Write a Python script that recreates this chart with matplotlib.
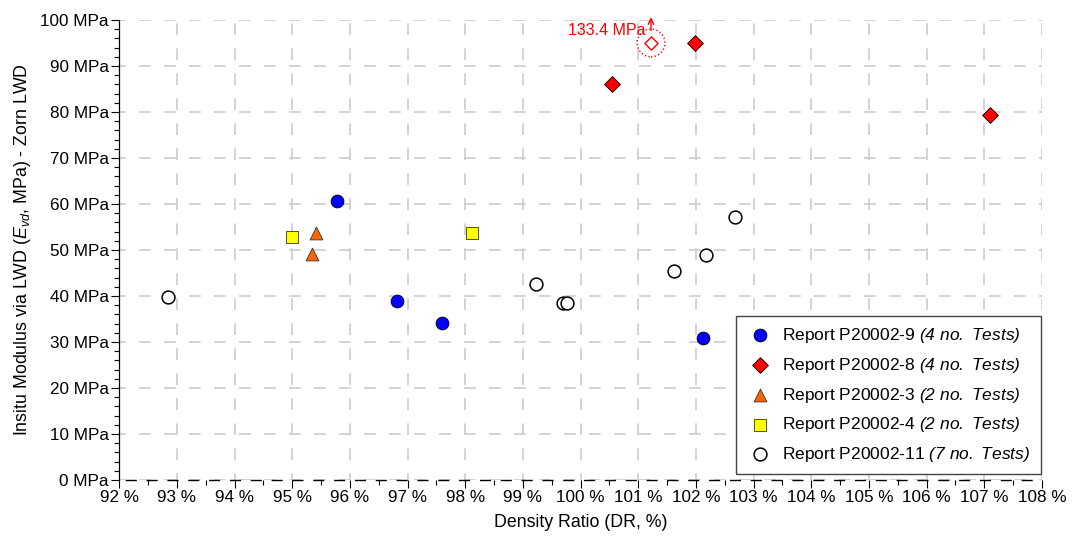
import numpy as np
import matplotlib.pyplot as plt
from matplotlib.ticker import MultipleLocator, FuncFormatter

plt.rcParams['font.family'] = ['Liberation Sans', 'DejaVu Sans']
plt.rcParams['mathtext.fontset'] = 'custom'
plt.rcParams['mathtext.rm'] = 'Liberation Sans:italic'
plt.rcParams['mathtext.it'] = 'Liberation Sans:italic'

# Dati (Density Ratio %, Modulo MPa)
p9_dr = [95.78, 96.81, 97.60, 102.12]
p9_e = [60.7, 38.9, 34.2, 30.9]

p8_dr = [100.55, 101.99, 107.10, 101.22]
p8_e = [86.1, 95.0, 79.4, 133.4]

p3_dr = [95.41, 95.34]
p3_e = [53.7, 49.1]

p4_dr = [95.00, 98.12]
p4_e = [52.8, 53.7]

p11_dr = [92.85, 99.23, 99.70, 99.76, 101.62, 102.18, 102.68]
p11_e = [39.8, 42.5, 38.5, 38.5, 45.4, 48.8, 57.2]

y_max = 100

fig = plt.figure(figsize=(10.72, 5.41), dpi=100)
ax = fig.add_axes([0.1113, 0.1128, 0.8607, 0.8503])

ms = 85
ax.scatter(p9_dr, p9_e, s=ms, marker='o', c='#0000ff', edgecolors='#000000', linewidths=0.6,
           label=r'Report P20002-9 $(4\ no.\ Tests)$', zorder=3)

# punti dentro/fuori scala
p8_in = [(x, y) for x, y in zip(p8_dr, p8_e) if y <= y_max]
p8_out = [(x, y) for x, y in zip(p8_dr, p8_e) if y > y_max]
ax.scatter([p[0] for p in p8_in], [p[1] for p in p8_in], s=65, marker='D', c='#ff0000',
           edgecolors='#000000', linewidths=0.6,
           label=r'Report P20002-8 $(4\ no.\ Tests)$', zorder=3)
for x, y in p8_out:
    ax.scatter([x], [y_max - 5], s=45, marker='D', facecolors='white', edgecolors='#ff0000',
               linewidths=1.0, zorder=3)
    ax.scatter([x], [y_max - 5], s=400, marker='o', facecolors='none', edgecolors='#ff0000',
               linewidths=1.0, linestyle=':', zorder=3)
    ax.annotate('', xy=(x, y_max + 0.6), xytext=(x, y_max - 2.3),
                arrowprops=dict(arrowstyle='->', color='#ff0000', lw=1.0, shrinkA=0, shrinkB=0),
                annotation_clip=False, zorder=3)
    ax.text(x - 0.1, y_max - 3.2, '%.1f MPa' % y, color='#ff0000', fontsize=11.5,
            ha='right', va='baseline', zorder=3)

ax.scatter(p3_dr, p3_e, s=ms, marker='^', c='#ff6600', edgecolors='#333333', linewidths=0.6,
           label=r'Report P20002-3 $(2\ no.\ Tests)$', zorder=3)
ax.scatter(p4_dr, p4_e, s=ms, marker='s', c='#ffff00', edgecolors='#333333', linewidths=0.6,
           label=r'Report P20002-4 $(2\ no.\ Tests)$', zorder=3)
ax.scatter(p11_dr, p11_e, s=ms, marker='o', c='white', edgecolors='#000000', linewidths=1.1,
           label=r'Report P20002-11 $(7\ no.\ Tests)$', zorder=3)

ax.set_xlim(92, 108)
ax.set_ylim(0, y_max)
ax.xaxis.set_major_locator(MultipleLocator(1))
ax.xaxis.set_minor_locator(MultipleLocator(0.5))
ax.yaxis.set_major_locator(MultipleLocator(10))
ax.yaxis.set_minor_locator(MultipleLocator(2))
ax.xaxis.set_major_formatter(FuncFormatter(lambda v, p: '%d %%' % round(v)))
ax.yaxis.set_major_formatter(FuncFormatter(lambda v, p: '%d MPa' % round(v)))
ax.tick_params(which='major', length=6, width=0.8, labelsize=12.3, direction='out', pad=1.5)
ax.tick_params(which='minor', length=3.5, width=0.8, direction='out')

ax.grid(True, which='major', color='#cccccc', linestyle=(3, (7, 8)), linewidth=1.2, zorder=0)
ax.set_axisbelow(True)
for s in ['top', 'right']:
    ax.spines[s].set_visible(False)
ax.spines['left'].set_linewidth(0.9)
ax.spines['bottom'].set_linewidth(1.0)
ax.spines['bottom'].set_linestyle((10, (7, 8)))

ax.set_xlabel('Density Ratio (DR, %)', fontsize=12.8, labelpad=6)
ax.set_ylabel(r'Insitu Modulus via LWD ($E_{vd}$, MPa) - Zorn LWD', fontsize=12.8, labelpad=5)

leg = ax.legend(loc='lower right', bbox_to_anchor=(0.999, 0.012), borderaxespad=0, fontsize=12.5,
                frameon=True, fancybox=False, edgecolor='#444444', framealpha=1, borderpad=0.6,
                labelspacing=0.62, handletextpad=0.5, handlelength=1.6)
leg.get_frame().set_linewidth(1.0)

plt.savefig('out.png', dpi=100)
